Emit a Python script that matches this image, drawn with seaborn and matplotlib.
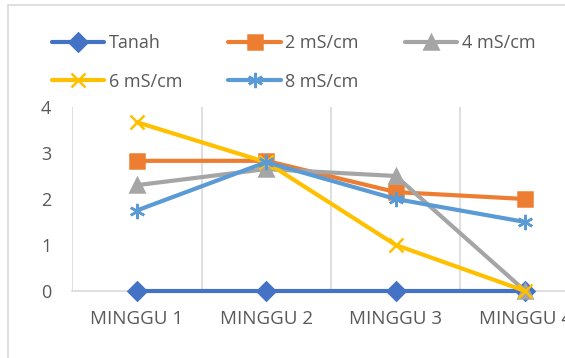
import matplotlib
matplotlib.use("Agg")
import matplotlib.pyplot as plt
from matplotlib.patches import Rectangle
import seaborn as sns
import pandas as pd

# Weekly readings for each treatment
weeks = ["MINGGU 1", "MINGGU 2", "MINGGU 3", "MINGGU 4"]
series_names = ["Tanah", "2 mS/cm", "4 mS/cm", "6 mS/cm", "8 mS/cm"]
tanah = [0, 0, 0, 0]
ec_2 = [2.83, 2.83, 2.15, 2.0]
ec_4 = [2.3, 2.65, 2.5, 0]
ec_6 = [3.67, 2.8, 1.0, 0]
ec_8 = [1.75, 2.8, 2.0, 1.5]
y_ticks = [0, 1, 2, 3, 4]

values = [tanah, ec_2, ec_4, ec_6, ec_8]
colors = ["#4472C4", "#ED7D31", "#A5A5A5", "#FFC000", "#5B9BD5"]
markers = ["D", "s", "^", "x", (6, 2, 0)]
msizes = [9, 10, 10, 10, 11]

sns.set_theme(style="white")
plt.rcParams["font.family"] = ["Open Sans", "DejaVu Sans"]

fig = plt.figure(figsize=(5.65, 3.58), dpi=100)
fig.patch.set_facecolor("white")

# outer chart frame
fig.add_artist(Rectangle((8 / 565, -0.1), 1.2, 1 - 5 / 358 + 0.1,
                         transform=fig.transFigure, fill=False,
                         edgecolor="#D9D9D9", linewidth=1.2))

ax = fig.add_axes([72 / 565, 67 / 358, 518 / 565, 184 / 358])

for name, vals, c, m, ms in zip(series_names, values, colors, markers, msizes):
    df = pd.DataFrame({"week": weeks, "value": vals})
    sns.lineplot(data=df, x="week", y="value", ax=ax, sort=False,
                 color=c, linewidth=3, marker=m, markersize=ms,
                 markeredgecolor=c, markerfacecolor=c, markeredgewidth=1.8,
                 label=name, clip_on=False, zorder=3)

ax.set_xlim(-0.5, 3.5)
ax.set_ylim(0, 4)
ax.set_yticks(y_ticks)
ax.set_xlabel("")
ax.set_ylabel("")
ax.set_xticks([-0.5, 0.5, 1.5, 2.5, 3.5], minor=True)
ax.grid(False)
ax.grid(True, which="minor", axis="x", color="#D9D9D9", linewidth=1.2)
for s in ["top", "right", "left"]:
    ax.spines[s].set_visible(False)
ax.spines["bottom"].set_color("#D9D9D9")
ax.spines["bottom"].set_linewidth(1.2)
ax.spines["bottom"].set_zorder(0)
ax.tick_params(axis="x", which="both", length=0, pad=14, labelsize=13.5,
               labelcolor="#595959")
ax.tick_params(axis="y", length=0, pad=15, labelsize=13, labelcolor="#595959")

# legend filled row by row: Tanah, 2, 4 / 6, 8
handles, labels = ax.get_legend_handles_labels()
ax.get_legend().remove()
order = [0, 3, 1, 4, 2]
fig.legend([handles[i] for i in order], [labels[i] for i in order],
           ncol=3, loc="upper left",
           bbox_to_anchor=(52 / 565, 1 - 34 / 358),
           frameon=False, fontsize=13, labelcolor="#595959",
           handlelength=2.9, handletextpad=0.25, columnspacing=2.55,
           labelspacing=1.15, borderaxespad=0, borderpad=0)

fig.savefig("out.png", dpi=100, facecolor="white")
